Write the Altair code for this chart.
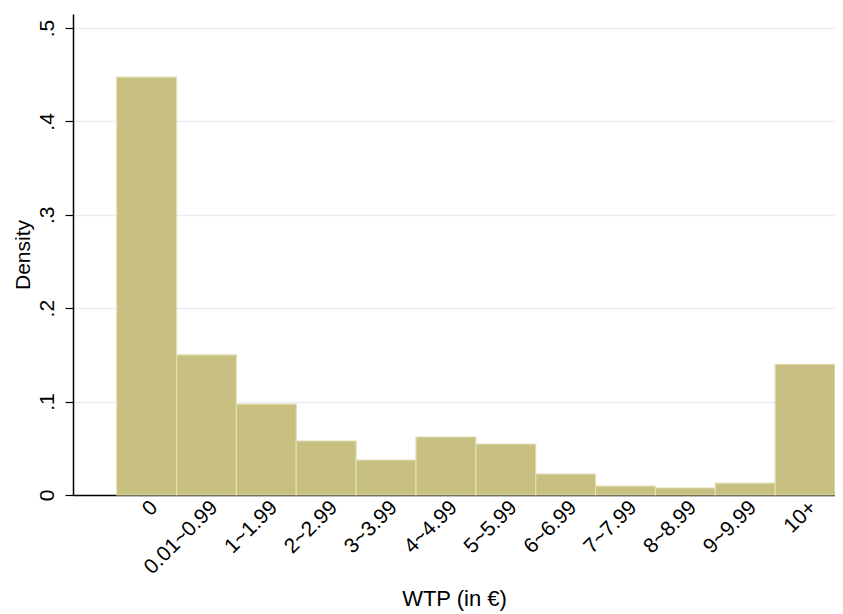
import altair as alt
import pandas as pd

categories = ["0", "0.01~0.99", "1~1.99", "2~2.99", "3~3.99", "4~4.99",
              "5~5.99", "6~6.99", "7~7.99", "8~8.99", "9~9.99", "10+"]
density = [0.4475, 0.150, 0.0974, 0.0578, 0.0375, 0.0621,
           0.0546, 0.0225, 0.0096, 0.0075, 0.0128, 0.140]
y_ticks = [0, 0.1, 0.2, 0.3, 0.4, 0.5]

df = pd.DataFrame({"WTP": categories, "Density": density})

FONT = "Liberation Sans"

chart = alt.Chart(df).mark_bar(
    color="#c8c080", stroke="#e2ddb4", strokeWidth=1.2
).encode(
    x=alt.X("WTP:N", sort=categories, title="WTP (in €)",
            scale=alt.Scale(paddingInner=0, paddingOuter=0.365, align=1),
            axis=alt.Axis(labelAngle=-45, labelAlign="right", labelBaseline="middle",
                          ticks=False, labelPadding=9, labelOffset=8,
                          domainColor="#000000",
                          domainWidth=1.5, labelFontSize=21, titleFontSize=22,
                          titleFontWeight="normal", titlePadding=11,
                          labelColor="#000000", titleColor="#000000", grid=False)),
    y=alt.Y("Density:Q", title="Density",
            scale=alt.Scale(domain=[0, 0.515], nice=False, zero=True),
            axis=alt.Axis(values=y_ticks, labelAngle=270, labelAlign="center",
                          labelBaseline="bottom", tickSize=8, tickColor="#000000",
                          tickWidth=1.2, labelPadding=8,
                          labelExpr="datum.value == 0 ? '0' : replace(format(datum.value, '.1f'), '0.', '.')",
                          domainColor="#000000", domainWidth=1.5,
                          gridColor="#e6eff1", gridWidth=1.5,
                          labelFontSize=21, titleFontSize=21, titleFontWeight="normal",
                          titlePadding=3, labelColor="#000000", titleColor="#000000")),
).properties(
    width=762, height=481,
    autosize=alt.AutoSizeParams(type="none"),
    padding={"left": 65, "top": 6, "right": 0, "bottom": 118},
).configure(
    font=FONT, background="white"
).configure_view(
    strokeWidth=0
)

chart.save("out.html", embed_options={"renderer": "svg", "actions": False})
